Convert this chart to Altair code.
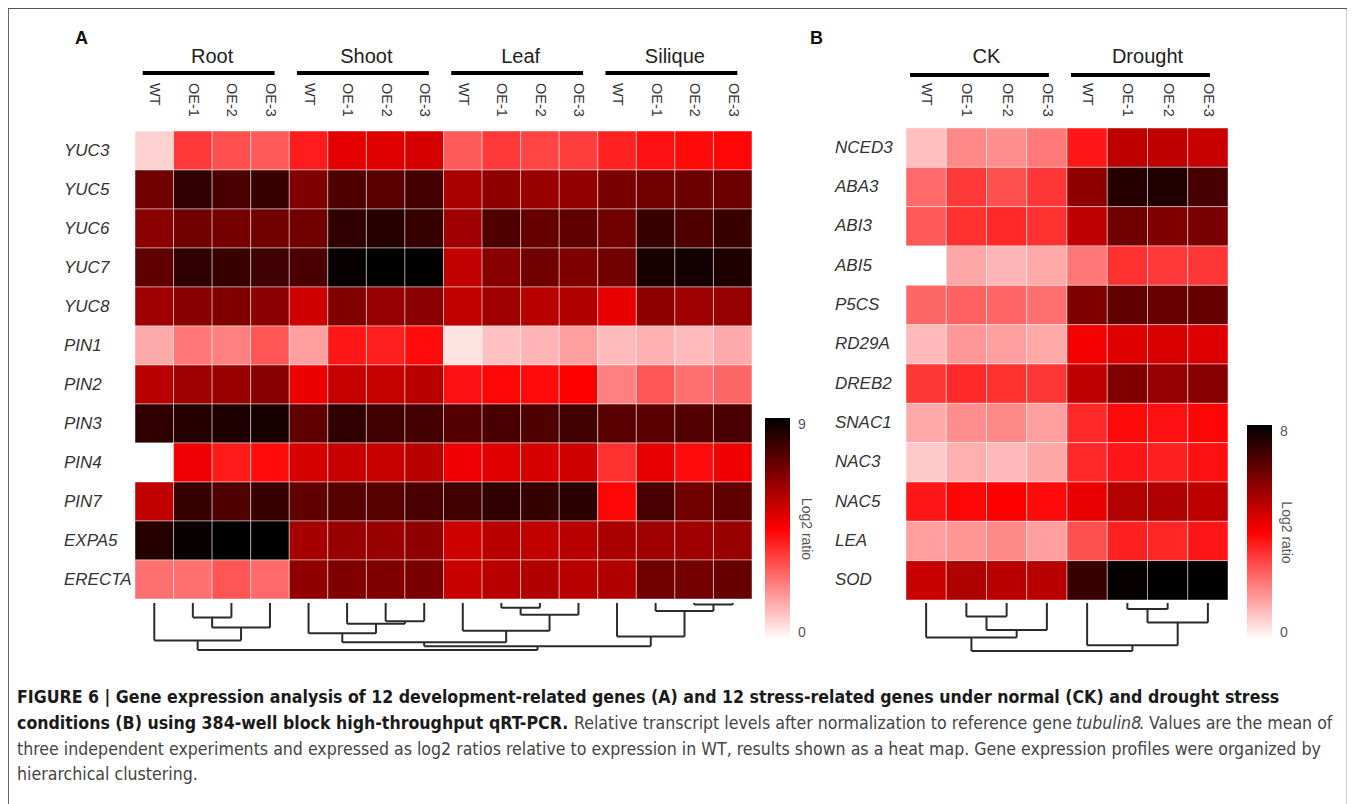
import altair as alt
import pandas as pd

# ---------------- Panel A data ----------------
A_groups = ["Root", "Shoot", "Leaf", "Silique"]
A_lines = ["WT", "OE-1", "OE-2", "OE-3"]
A_genes = ["YUC3", "YUC5", "YUC6", "YUC7", "YUC8", "PIN1",
           "PIN2", "PIN3", "PIN4", "PIN7", "EXPA5", "ERECTA"]
A_YUC3 = [0.8, 3.5, 3.1, 2.9, 4.0, 4.95, 5.05, 5.2, 2.9, 3.5, 3.3, 3.4, 3.9, 4.2, 4.35, 4.4]
A_YUC5 = [7.0, 8.15, 7.7, 8.0, 6.75, 7.6, 7.4, 7.8, 6.0, 6.45, 6.3, 6.4, 6.85, 7.0, 7.1, 7.1]
A_YUC6 = [6.55, 7.0, 6.95, 7.0, 7.0, 8.15, 8.35, 8.05, 6.2, 7.6, 7.2, 7.3, 7.0, 8.0, 7.6, 8.0]
A_YUC7 = [7.3, 8.15, 8.0, 7.9, 7.7, 8.9, 9.0, 9.0, 5.6, 6.6, 7.0, 6.75, 7.0, 8.55, 8.65, 8.45]
A_YUC8 = [6.2, 6.6, 6.75, 6.55, 5.35, 6.75, 6.35, 6.55, 5.6, 6.2, 5.75, 5.9, 4.9, 6.45, 6.2, 6.35]
A_PIN1 = [1.5, 2.4, 2.25, 3.0, 1.7, 4.1, 3.95, 4.3, 0.5, 1.1, 1.3, 1.7, 1.2, 1.4, 1.2, 1.5]
A_PIN2 = [5.75, 6.2, 6.3, 6.6, 4.8, 5.5, 5.55, 5.75, 4.2, 4.4, 4.3, 4.5, 2.25, 3.0, 2.5, 2.7]
A_PIN3 = [8.15, 8.35, 8.45, 8.55, 7.3, 8.15, 7.85, 7.8, 7.5, 7.7, 7.6, 7.85, 7.4, 7.4, 7.5, 7.7]
A_PIN4 = [0.0, 4.75, 4.05, 4.3, 5.2, 5.45, 5.45, 5.75, 4.75, 5.05, 5.2, 5.35, 3.65, 4.9, 4.3, 4.75]
A_PIN7 = [5.6, 8.05, 7.6, 8.0, 7.3, 7.45, 7.45, 7.7, 7.85, 8.15, 8.05, 8.25, 4.4, 7.7, 7.0, 7.3]
A_EXPA5 = [8.35, 8.85, 9.0, 9.0, 6.05, 6.3, 6.3, 6.45, 5.35, 5.75, 5.6, 5.75, 6.0, 6.2, 6.2, 6.3]
A_ERECTA = [2.5, 2.5, 3.0, 2.65, 6.45, 6.75, 6.75, 6.85, 5.45, 5.75, 5.9, 5.75, 5.9, 7.0, 6.95, 7.2]
A_rows = [A_YUC3, A_YUC5, A_YUC6, A_YUC7, A_YUC8, A_PIN1,
          A_PIN2, A_PIN3, A_PIN4, A_PIN7, A_EXPA5, A_ERECTA]
# dendrogram (merge children, merge heights); leaves 0..15
A_merge_left = [1, 16, 0, 6, 5, 4, 9, 22, 8, 21, 14, 13, 12, 25, 18]
A_merge_right = [2, 3, 17, 7, 19, 20, 10, 11, 23, 24, 15, 26, 27, 28, 29]
A_merge_height = [45, 77, 117, 57, 65, 95, 15, 37, 87, 123, 5, 25, 105, 135, 147]

# ---------------- Panel B data ----------------
B_groups = ["CK", "Drought"]
B_lines = ["WT", "OE-1", "OE-2", "OE-3"]
B_genes = ["NCED3", "ABA3", "ABI3", "ABI5", "P5CS", "RD29A",
           "DREB2", "SNAC1", "NAC3", "NAC5", "LEA", "SOD"]
B_NCED3 = [1.0, 1.85, 1.75, 2.1, 3.65, 5.0, 5.0, 4.85]
B_ABA3 = [2.35, 3.1, 2.75, 3.15, 5.75, 7.4, 7.5, 6.85]
B_ABI3 = [2.6, 3.25, 3.35, 3.25, 5.0, 6.25, 6.0, 6.1]
B_ABI5 = [0.0, 1.4, 1.15, 1.35, 2.15, 3.25, 3.1, 3.15]
B_P5CS = [2.4, 2.5, 2.4, 2.25, 6.0, 6.5, 6.35, 6.4]
B_RD29A = [1.1, 1.6, 1.5, 1.35, 4.15, 4.5, 4.6, 4.55]
B_DREB2 = [3.15, 3.35, 3.25, 3.15, 5.0, 6.0, 5.65, 5.85]
B_SNAC1 = [1.35, 1.75, 1.85, 1.5, 3.35, 3.85, 3.75, 3.9]
B_NAC3 = [0.85, 1.25, 1.1, 1.4, 3.35, 3.65, 3.5, 3.75]
B_NAC5 = [3.65, 3.9, 4.0, 3.85, 4.35, 5.2, 5.25, 5.0]
B_LEA = [1.5, 1.65, 1.85, 1.5, 2.75, 3.5, 3.4, 3.65]
B_SOD = [4.85, 5.25, 5.1, 5.1, 7.1, 7.9, 8.0, 8.0]
B_rows = [B_NCED3, B_ABA3, B_ABI3, B_ABI5, B_P5CS, B_RD29A,
          B_DREB2, B_SNAC1, B_NAC3, B_NAC5, B_LEA, B_SOD]
B_merge_left = [1, 8, 0, 5, 11, 4, 10]
B_merge_right = [2, 3, 9, 6, 7, 12, 13]
B_merge_height = [40, 80, 102, 18, 58, 125, 142]

# ---------------- Caption text ----------------
cap_bold = ["FIGURE 6 | Gene expression analysis of 12 development-related genes (A) and 12 stress-related genes under normal (CK) and drought stress",
            "conditions (B) using 384-well block high-throughput qRT-PCR."]
cap_regular = ["Relative transcript levels after normalization to reference gene",
               ". Values are the mean of",
               "three independent experiments and expressed as log2 ratios relative to expression in WT, results shown as a heat map. Gene expression profiles were organized by",
               "hierarchical clustering."]
cap_italic = ["tubulin8"]
legend_title = "Log2 ratio"

FONT = "Liberation Sans, Arial, sans-serif"
CAPFONT = "DejaVu Sans Condensed, DejaVu Sans, sans-serif"
CAPSIZE = 17.6


def heat_table(groups, lines, genes, rows):
    recs = []
    for g, vals in zip(genes, rows):
        for k, v in enumerate(vals):
            grp = groups[k // len(lines)]
            ln = lines[k % len(lines)]
            recs.append({"gene": g, "col": f"{grp} {ln}", "line": ln, "value": v})
    return pd.DataFrame(recs)


def dendro_table(n, left, right, heights):
    pos = {i: (i + 0.5, 0.0) for i in range(n)}
    segs = []
    for k, (l, r, h) in enumerate(zip(left, right, heights)):
        xl, hl = pos[l]
        xr, hr = pos[r]
        segs.append({"x": xl, "x2": xl, "y": hl, "y2": h})
        segs.append({"x": xr, "x2": xr, "y": hr, "y2": h})
        segs.append({"x": xl, "x2": xr, "y": h, "y2": h})
        pos[n + k] = ((xl + xr) / 2, h)
    return pd.DataFrame(segs)


def panel(groups, lines, genes, rows, xr, yr, vmax, mid, legx, legy, leglen,
          gene_x, merges, dyr, hdr_s, hdr_e, bar_y, hdr_y, lab_y, ltx):
    df = heat_table(groups, lines, genes, rows)
    cols = [f"{g} {l}" for g in groups for l in lines]
    ncol = len(cols)
    xs = alt.Scale(domain=cols, range=xr, paddingInner=0, paddingOuter=0)
    ys = alt.Scale(domain=genes, range=yr, paddingInner=0, paddingOuter=0)
    heat = alt.Chart(df).mark_rect(stroke="#ffffff", strokeWidth=1, strokeOpacity=0.45).encode(
        x=alt.X("col:N", scale=xs, axis=None, sort=cols),
        y=alt.Y("gene:N", scale=ys, axis=None, sort=genes),
        color=alt.Color("value:Q",
                        scale=alt.Scale(domain=[0, mid, vmax], range=["#ffffff", "#ff0000", "#000000"],
                                        interpolate="rgb"),
                        legend=alt.Legend(orient="none", legendX=legx, legendY=legy,
                                          direction="vertical", gradientLength=leglen,
                                          gradientThickness=25, values=[0, vmax],
                                          title=None,
                                          labelFontSize=14, labelColor="#555", labelFont=FONT,
                                          labelOffset=8, gradientStrokeWidth=0)),
    )
    col_df = pd.DataFrame({"col": cols, "line": [c.split(" ")[1] for c in cols]})
    col_lab = alt.Chart(col_df).mark_text(angle=90, align="left", baseline="middle",
                                          fontSize=14.5, font=FONT, color="#333").encode(
        x=alt.X("col:N", scale=xs, axis=None, sort=cols),
        y=alt.value(lab_y),
        text="line:N",
    )
    gene_df = pd.DataFrame({"gene": genes})
    gene_lab = alt.Chart(gene_df).mark_text(align="left", baseline="middle", fontSize=17,
                                            fontStyle="italic", font=FONT, color="#333").encode(
        y=alt.Y("gene:N", scale=ys, axis=None, sort=genes),
        x=alt.value(gene_x),
        text="gene:N",
    )
    band = alt.layer(heat, col_lab, gene_lab)

    qx = alt.Scale(domain=[0, ncol], range=xr, nice=False, zero=False)
    dd = dendro_table(ncol, *merges)
    qy = alt.Scale(domain=[0, max(merges[2])], range=dyr, nice=False, zero=False)
    dendro = alt.Chart(dd).mark_rule(color="#2b2b2b", strokeWidth=2).encode(
        x=alt.X("x:Q", scale=qx, axis=None),
        x2="x2:Q",
        y=alt.Y("y:Q", scale=qy, axis=None),
        y2="y2:Q",
    )
    hdr = pd.DataFrame([{"group": g, "start": i * len(lines) + hdr_s,
                         "end": i * len(lines) + len(lines) - 1 + hdr_e,
                         "center": i * len(lines) + len(lines) / 2} for i, g in enumerate(groups)])
    bars = alt.Chart(hdr).mark_rule(color="#000000", strokeWidth=4).encode(
        x=alt.X("start:Q", scale=qx, axis=None),
        x2="end:Q",
        y=alt.value(bar_y),
    )
    htext = alt.Chart(hdr).mark_text(fontSize=20, font=FONT, color="#222", baseline="middle").encode(
        x=alt.X("center:Q", scale=qx, axis=None),
        y=alt.value(hdr_y),
        text="group:N",
    )
    lt = alt.Chart(pd.DataFrame({"t": [legend_title]})).mark_text(
        angle=90, fontSize=14, font=FONT, color="#555", align="center", baseline="middle").encode(
        x=alt.value(ltx), y=alt.value(legy + leglen / 2), text="t:N")
    quant = alt.layer(dendro, bars, htext, lt)
    return band, quant


A_band, A_quant = panel(A_groups, A_lines, A_genes, A_rows, [127, 744], [123, 591], 9, 4.5,
                        757, 410, 222, 56, (A_merge_left, A_merge_right, A_merge_height),
                        [595, 642], 0.2, 0.62, 65, 49, 75, 798)
B_band, B_quant = panel(B_groups, B_lines, B_genes, B_rows, [898, 1220], [120, 592], 8, 4.0,
                        1239, 417, 215, 827, (B_merge_left, B_merge_right, B_merge_height),
                        [595, 643], 0.1, 0.55, 67, 49, 75, 1278)

letters = alt.Chart(pd.DataFrame({"t": ["A", "B"], "px": [73.5, 808.5], "py": [31, 31]})).mark_text(
    fontSize=18, fontWeight="bold", font=FONT, color="#111", baseline="middle").encode(
    x=alt.X("px:Q", scale=None), y=alt.Y("py:Q", scale=None), text="t:N")

bold_df = pd.DataFrame({"t": cap_bold, "px": [9, 9], "py": [690, 716]})
reg_df = pd.DataFrame({"t": cap_regular, "px": [566, 1131, 9, 9], "py": [716, 716, 742, 767]})
ita_df = pd.DataFrame({"t": cap_italic, "px": [1068], "py": [716]})
cap_b = alt.Chart(bold_df).mark_text(fontSize=CAPSIZE, fontWeight="bold", font=CAPFONT, color="#1a1a1a",
                                     align="left", baseline="middle").encode(
    x=alt.X("px:Q", scale=None), y=alt.Y("py:Q", scale=None), text="t:N")
cap_r = alt.Chart(reg_df).mark_text(fontSize=CAPSIZE, font=CAPFONT, color="#444",
                                    align="left", baseline="middle").encode(
    x=alt.X("px:Q", scale=None), y=alt.Y("py:Q", scale=None), text="t:N")
cap_i = alt.Chart(ita_df).mark_text(fontSize=CAPSIZE, fontStyle="italic", font=CAPFONT, color="#444",
                                    align="left", baseline="middle").encode(
    x=alt.X("px:Q", scale=None), y=alt.Y("py:Q", scale=None), text="t:N")

chart = alt.layer(A_band, B_band, A_quant, B_quant, letters, cap_b, cap_r, cap_i).resolve_scale(
    x="independent", y="independent", color="independent"
).properties(width=1339, height=800, padding=0, autosize="none").configure_view(
    stroke="#555", strokeWidth=1.2)

chart.save("out.html", embed_options={"renderer": "svg", "actions": False})
